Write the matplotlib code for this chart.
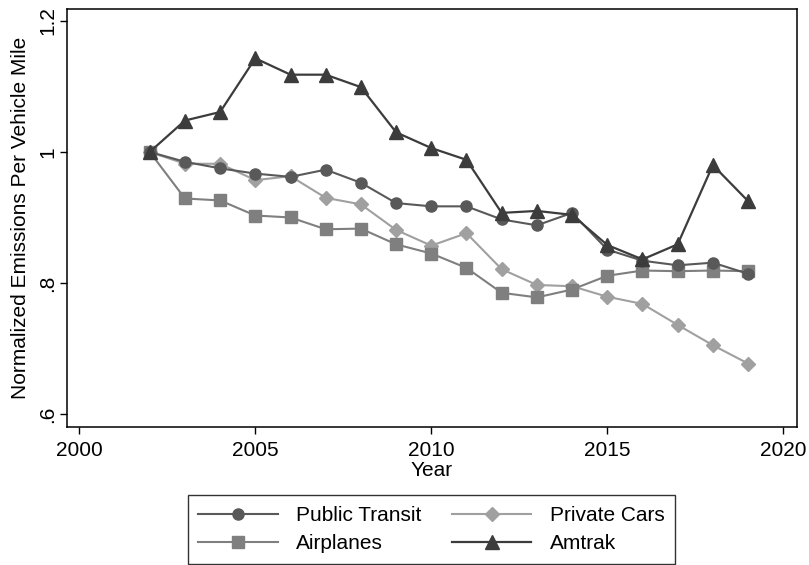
import matplotlib.pyplot as plt

plt.rcParams['font.family'] = ['Liberation Sans', 'DejaVu Sans']

years = list(range(2002, 2020))

public_transit = [1.000, 0.985, 0.975, 0.967, 0.962, 0.973, 0.953, 0.922, 0.917,
                  0.917, 0.897, 0.888, 0.907, 0.851, 0.834, 0.827, 0.831, 0.814]
private_cars = [1.000, 0.982, 0.982, 0.957, 0.963, 0.930, 0.920, 0.881, 0.857,
                0.876, 0.821, 0.797, 0.795, 0.779, 0.768, 0.736, 0.705, 0.677]
airplanes = [1.000, 0.929, 0.926, 0.903, 0.900, 0.882, 0.883, 0.859, 0.845,
             0.823, 0.785, 0.778, 0.790, 0.811, 0.819, 0.818, 0.819, 0.818]
amtrak = [1.000, 1.048, 1.061, 1.143, 1.118, 1.118, 1.099, 1.030, 1.006,
          0.988, 0.907, 0.910, 0.904, 0.858, 0.836, 0.859, 0.980, 0.925]

x_ticks = [2000, 2005, 2010, 2015, 2020]
y_ticks = [0.6, 0.8, 1.0, 1.2]
y_tick_labels = ['.6', '.8', '1', '1.2']

fig = plt.figure(figsize=(8.09, 5.65), dpi=100)
ax = fig.add_axes([0.0824, 0.2448, 0.9023, 0.7393])

lw = 1.5
ax.plot(years, public_transit, color='#595959', lw=lw, marker='o', ms=8,
        label='Public Transit', zorder=3)
ax.plot(years, private_cars, color='#a0a0a0', lw=lw, marker='D', ms=7,
        label='Private Cars', zorder=2)
ax.plot(years, airplanes, color='#7f7f7f', lw=lw, marker='s', ms=8.5,
        label='Airplanes', zorder=2)
ax.plot(years, amtrak, color='#3c3c3c', lw=1.6, marker='^', ms=9.5,
        label='Amtrak', zorder=4)

ax.set_xlim(1999.64, 2020.38)
ax.set_ylim(0.5806, 1.2183)
ax.set_xticks(x_ticks)
ax.set_yticks(y_ticks)
ax.set_yticklabels(y_tick_labels, rotation=90, va='center')

for s in ax.spines.values():
    s.set_linewidth(1.1)
    s.set_color('black')
ax.tick_params(axis='both', labelsize=15, length=5, width=1.0, direction='out')
ax.tick_params(axis='x', pad=5)
ax.tick_params(axis='y', pad=2)

ax.set_xlabel('Year', fontsize=15, labelpad=1)
ax.set_ylabel('Normalized Emissions Per Vehicle Mile', fontsize=15, labelpad=6)

h, l = ax.get_legend_handles_labels()
order = [0, 2, 1, 3]
leg = fig.legend([h[i] for i in order], [l[i] for i in order], ncol=2,
                 loc='center', bbox_to_anchor=(0.5334, 0.0628),
                 fontsize=15, frameon=True, fancybox=False, edgecolor='black',
                 handlelength=3.8, handletextpad=0.9, columnspacing=1.45,
                 labelspacing=0.45, borderpad=0.5, borderaxespad=0)
leg.get_frame().set_linewidth(1.0)

fig.savefig('out.png', dpi=100)
